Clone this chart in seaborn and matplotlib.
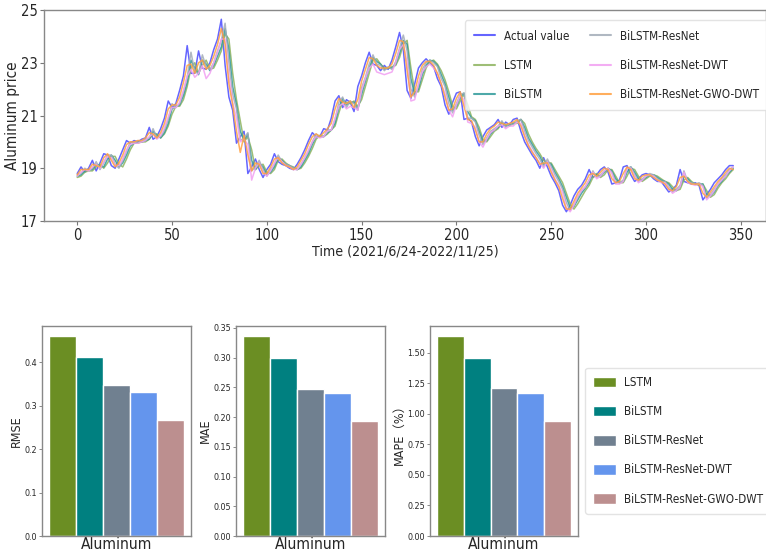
import matplotlib
matplotlib.use('Agg')
import matplotlib.pyplot as plt
from matplotlib import font_manager, ticker
from matplotlib.patches import Patch
from matplotlib.textpath import TextPath
import numpy as np
import pandas as pd
import seaborn as sns

# time index (every 2nd day of the test window)
t = np.arange(0, 347, 2)

actual = [18.8, 19.05, 18.85, 19.0, 19.3, 18.9, 19.2, 19.55, 19.5, 19.1,
          19.0, 19.35, 19.7, 20.05, 19.95, 20.05, 20.0, 20.1, 20.15, 20.55,
          20.1, 20.2, 20.5, 20.9, 21.55, 21.3, 21.45, 21.95, 22.5, 23.65,
          22.6, 22.6, 23.45, 22.8, 22.75, 23.0, 23.5, 23.9, 24.65, 22.9,
          21.7, 21.2, 19.95, 20.2, 20.4, 18.8, 19.05, 19.35, 18.95, 18.65,
          18.95, 19.15, 19.55, 19.25, 19.15, 19.1, 19.0, 18.95, 19.15, 19.4,
          19.7, 20.05, 20.35, 20.2, 20.2, 20.5, 20.45, 20.9, 21.55, 21.75,
          21.3, 21.6, 21.5, 21.15, 22.1, 22.5, 23.0, 23.4, 22.95, 22.9,
          22.7, 22.9, 22.75, 23.1, 23.6, 24.15, 23.5, 21.95, 21.65, 22.2,
          22.8, 23.0, 23.15, 23.0, 22.85, 22.4, 22.1, 21.4, 21.05, 21.5,
          21.85, 21.9, 20.85, 20.9, 20.75, 20.2, 19.85, 20.2, 20.45, 20.55,
          20.65, 20.85, 20.55, 20.75, 20.65, 20.85, 20.9, 20.4, 20.0, 19.75,
          19.5, 19.3, 19.0, 19.4, 19.05, 18.7, 18.45, 18.15, 17.6, 17.35,
          17.6, 17.95, 18.2, 18.35, 18.6, 18.95, 18.65, 18.75, 18.95, 19.05,
          18.85, 18.4, 18.45, 18.55, 19.05, 19.1, 18.75, 18.5, 18.6, 18.75,
          18.8, 18.75, 18.6, 18.5, 18.5, 18.3, 18.1, 18.2, 18.35, 18.95,
          18.5, 18.45, 18.4, 18.45, 18.35, 17.8, 18.0, 18.2, 18.45, 18.6,
          18.75, 18.95, 19.1, 19.1]

lstm = [18.65, 18.7, 18.85, 18.9, 18.9, 19.05, 19.15, 19.0, 19.2, 19.45,
        19.45, 19.15, 19.05, 19.35, 19.7, 19.95, 19.95, 20.0, 20.0, 20.1,
        20.3, 20.3, 20.15, 20.3, 20.6, 21.05, 21.35, 21.35, 21.6, 22.1,
        22.8, 23.0, 22.6, 22.9, 23.1, 22.75, 22.8, 23.1, 23.45, 24.1,
        23.9, 22.6, 21.6, 20.8, 20.0, 20.2, 19.7, 18.95, 19.1, 19.15,
        18.85, 18.8, 18.95, 19.3, 19.35, 19.2, 19.1, 19.05, 18.95, 19.0,
        19.2, 19.45, 19.75, 20.1, 20.25, 20.2, 20.3, 20.45, 20.6, 21.1,
        21.55, 21.5, 21.45, 21.55, 21.35, 21.6, 22.1, 22.6, 23.1, 23.15,
        22.95, 22.8, 22.8, 22.85, 22.9, 23.2, 23.7, 23.85, 22.8, 21.9,
        21.9, 22.35, 22.8, 23.05, 23.1, 22.95, 22.7, 22.35, 21.9, 21.35,
        21.25, 21.55, 21.8, 21.4, 20.95, 20.85, 20.55, 20.1, 20.0, 20.2,
        20.4, 20.5, 20.7, 20.65, 20.6, 20.7, 20.7, 20.85, 20.7, 20.3,
        20.0, 19.75, 19.55, 19.3, 19.2, 19.2, 18.95, 18.7, 18.45, 18.05,
        17.65, 17.45, 17.65, 17.9, 18.15, 18.35, 18.65, 18.8, 18.65, 18.75,
        18.95, 18.95, 18.7, 18.45, 18.45, 18.7, 19.0, 18.95, 18.7, 18.5,
        18.6, 18.7, 18.75, 18.7, 18.6, 18.5, 18.45, 18.3, 18.15, 18.2,
        18.55, 18.65, 18.5, 18.4, 18.35, 18.4, 18.15, 17.9, 18.0, 18.25,
        18.45, 18.6, 18.8, 18.95]

bilstm = [18.7, 18.75, 18.9, 18.95, 18.95, 19.15, 19.1, 19.05, 19.35, 19.5,
          19.3, 19.05, 19.2, 19.5, 19.85, 19.95, 20.0, 20.0, 20.05, 20.1,
          20.4, 20.25, 20.15, 20.35, 20.7, 21.25, 21.35, 21.4, 21.75, 22.25,
          23.1, 22.8, 22.55, 23.1, 22.95, 22.7, 22.9, 23.25, 23.6, 24.3,
          23.5, 22.1, 21.4, 20.4, 20.05, 20.3, 19.3, 18.95, 19.2, 19.05,
          18.75, 18.85, 19.05, 19.4, 19.3, 19.15, 19.1, 19.0, 18.95, 19.05,
          19.3, 19.55, 19.9, 20.2, 20.2, 20.2, 20.35, 20.45, 20.7, 21.3,
          21.65, 21.4, 21.5, 21.5, 21.25, 21.8, 22.3, 22.8, 23.2, 23.05,
          22.95, 22.75, 22.8, 22.8, 22.95, 23.35, 23.85, 23.7, 22.4, 21.8,
          22.0, 22.55, 22.9, 23.1, 23.05, 22.9, 22.55, 22.2, 21.7, 21.2,
          21.35, 21.7, 21.85, 21.15, 20.9, 20.8, 20.4, 20.0, 20.05, 20.3,
          20.45, 20.55, 20.75, 20.6, 20.65, 20.7, 20.75, 20.85, 20.55, 20.15,
          19.9, 19.65, 19.45, 19.15, 19.25, 19.15, 18.85, 18.6, 18.3, 17.9,
          17.5, 17.55, 17.8, 18.05, 18.25, 18.45, 18.8, 18.75, 18.7, 18.85,
          19.0, 18.9, 18.6, 18.45, 18.5, 18.85, 19.05, 18.85, 18.6, 18.55,
          18.65, 18.75, 18.75, 18.65, 18.55, 18.5, 18.4, 18.2, 18.15, 18.3,
          18.7, 18.6, 18.45, 18.4, 18.4, 18.4, 18.0, 17.95, 18.1, 18.35,
          18.5, 18.7, 18.85, 19.0]

resnet = [18.75, 18.8, 19.0, 18.9, 19.0, 19.25, 18.95, 19.2, 19.5, 19.5,
          19.15, 19.0, 19.3, 19.65, 20.0, 19.95, 20.05, 20.0, 20.1, 20.15,
          20.5, 20.15, 20.2, 20.45, 20.85, 21.45, 21.3, 21.45, 21.9, 22.45,
          23.4, 22.65, 22.6, 23.3, 22.85, 22.75, 23.0, 23.45, 23.85, 24.5,
          23.0, 21.8, 21.25, 20.05, 20.15, 20.35, 18.9, 19.05, 19.3, 18.95,
          18.7, 18.95, 19.15, 19.5, 19.25, 19.15, 19.1, 19.0, 18.95, 19.15,
          19.4, 19.65, 20.0, 20.3, 20.2, 20.2, 20.45, 20.45, 20.85, 21.5,
          21.7, 21.3, 21.55, 21.45, 21.2, 22.05, 22.45, 22.95, 23.3, 22.95,
          22.9, 22.7, 22.85, 22.75, 23.05, 23.55, 24.05, 23.45, 22.0, 21.7,
          22.15, 22.75, 23.0, 23.1, 23.0, 22.85, 22.4, 22.1, 21.45, 21.1,
          21.45, 21.8, 21.85, 20.9, 20.9, 20.75, 20.25, 19.9, 20.15, 20.4,
          20.5, 20.6, 20.8, 20.55, 20.7, 20.65, 20.8, 20.85, 20.4, 20.05,
          19.8, 19.55, 19.35, 19.05, 19.35, 19.05, 18.75, 18.5, 18.2, 17.7,
          17.4, 17.6, 17.9, 18.15, 18.3, 18.55, 18.9, 18.65, 18.75, 18.9,
          19.0, 18.85, 18.45, 18.45, 18.55, 19.0, 19.05, 18.75, 18.5, 18.6,
          18.7, 18.8, 18.75, 18.6, 18.5, 18.5, 18.3, 18.1, 18.2, 18.35,
          18.9, 18.5, 18.45, 18.4, 18.45, 18.35, 17.85, 18.0, 18.2, 18.4,
          18.6, 18.75, 18.95, 19.05]

resnet_dwt = [18.7, 18.85, 18.95, 18.9, 19.05, 19.15, 19.0, 19.25, 19.45, 19.4,
              19.1, 19.1, 19.35, 19.7, 19.9, 19.95, 19.95, 20.0, 20.05, 20.2,
              20.3, 20.1, 20.25, 20.55, 20.95, 21.3, 21.3, 21.5, 21.95, 22.5,
              22.75, 22.45, 22.6, 22.9, 22.4, 22.6, 23.0, 23.4, 23.9, 23.9,
              22.5, 21.5, 20.9, 20.0, 20.1, 19.9, 18.55, 19.0, 19.2, 18.85,
              18.7, 18.9, 19.2, 19.4, 19.25, 19.1, 19.05, 18.95, 18.95, 19.15,
              19.4, 19.7, 20.0, 20.2, 20.15, 20.2, 20.4, 20.45, 20.9, 21.35,
              21.45, 21.25, 21.35, 21.3, 21.2, 21.95, 22.4, 22.8, 22.95, 22.65,
              22.6, 22.55, 22.6, 22.65, 23.0, 23.5, 23.7, 23.0, 21.55, 21.6,
              22.2, 22.65, 22.85, 22.95, 22.8, 22.6, 22.2, 21.85, 21.2, 20.95,
              21.4, 21.75, 21.6, 20.75, 20.7, 20.55, 20.0, 19.8, 20.1, 20.35,
              20.45, 20.6, 20.65, 20.5, 20.6, 20.6, 20.75, 20.7, 20.25, 19.9,
              19.65, 19.4, 19.2, 19.0, 19.25, 18.95, 18.6, 18.35, 18.05, 17.5,
              17.35, 17.6, 17.95, 18.15, 18.3, 18.55, 18.85, 18.6, 18.7, 18.9,
              19.0, 18.8, 18.4, 18.4, 18.5, 19.0, 19.0, 18.7, 18.45, 18.55,
              18.7, 18.75, 18.7, 18.55, 18.45, 18.45, 18.25, 18.05, 18.15, 18.3,
              18.85, 18.45, 18.4, 18.35, 18.4, 18.3, 17.8, 17.95, 18.15, 18.4,
              18.55, 18.7, 18.9, 19.05]

gwo_dwt = [18.75, 18.95, 18.95, 18.95, 19.15, 19.1, 19.05, 19.4, 19.55, 19.3,
           19.05, 19.2, 19.5, 19.9, 20.0, 20.0, 20.05, 20.05, 20.15, 20.35,
           20.3, 20.15, 20.35, 20.7, 21.25, 21.4, 21.4, 21.7, 22.25, 22.9,
           22.95, 22.6, 23.0, 23.1, 22.75, 22.9, 23.25, 23.7, 24.3, 23.7,
           22.2, 21.4, 20.4, 19.6, 20.25, 19.5, 18.9, 19.2, 19.15, 18.8,
           18.8, 19.05, 19.35, 19.4, 19.2, 19.1, 19.05, 18.95, 19.05, 19.3,
           19.55, 19.9, 20.2, 20.3, 20.2, 20.35, 20.5, 20.7, 21.25, 21.65,
           21.5, 21.45, 21.55, 21.3, 21.6, 22.3, 22.75, 23.2, 23.15, 22.9,
           22.8, 22.8, 22.8, 22.95, 23.35, 23.85, 23.8, 22.7, 21.7, 21.9,
           22.5, 22.9, 23.05, 23.05, 22.9, 22.6, 22.2, 21.7, 21.2, 21.25,
           21.65, 21.9, 21.35, 20.85, 20.8, 20.45, 20.0, 20.0, 20.3, 20.5,
           20.6, 20.75, 20.7, 20.65, 20.7, 20.75, 20.85, 20.6, 20.2, 19.85,
           19.6, 19.4, 19.15, 19.2, 19.2, 18.85, 18.55, 18.3, 17.85, 17.45,
           17.45, 17.75, 18.05, 18.25, 18.45, 18.75, 18.8, 18.7, 18.85, 19.0,
           18.95, 18.6, 18.45, 18.5, 18.8, 19.05, 18.95, 18.6, 18.55, 18.7,
           18.75, 18.75, 18.65, 18.55, 18.5, 18.4, 18.2, 18.15, 18.3, 18.65,
           18.7, 18.5, 18.4, 18.4, 18.4, 18.05, 17.9, 18.1, 18.3, 18.5,
           18.65, 18.85, 19.0, 18.95]

line_names = ['Actual value', 'LSTM', 'BiLSTM', 'BiLSTM-ResNet',
              'BiLSTM-ResNet-DWT', 'BiLSTM-ResNet-GWO-DWT']
line_colors = ['#4a4aff', '#8db35e', '#2f9a9a', '#a3acb8', '#f29ff2', '#ffa040']

# error metrics
models = ['LSTM', 'BiLSTM', 'BiLSTM-ResNet', 'BiLSTM-ResNet-DWT', 'BiLSTM-ResNet-GWO-DWT']
rmse = [0.460, 0.412, 0.347, 0.332, 0.268]
mae = [0.336, 0.300, 0.248, 0.241, 0.193]
mape = [1.637, 1.462, 1.213, 1.169, 0.939]
bar_colors = ['olivedrab', 'teal', 'slategray', 'cornflowerblue', 'rosybrown']

sns.set_style('white')

# pick a narrow font if one is installed, otherwise Roboto
cands = []
for f in font_manager.fontManager.ttflist:
    if f.style != 'normal' or f.weight not in (400, 'normal', 'regular'):
        continue
    if 'Narrow' in f.name or 'Condensed' in f.name or f.stretch in ('condensed', 'semi-condensed'):
        cands.append(f)
cands.sort(key=lambda f: (0 if 'Liberation' in f.name else 1 if 'DejaVu' in f.name else 2, f.name))
if cands:
    nfam, nstretch = cands[0].name, cands[0].stretch
else:
    nfam, nstretch = 'Roboto', 'normal'
plt.rcParams['font.family'] = [nfam, 'DejaVu Sans']
plt.rcParams['font.stretch'] = nstretch


def fit(text, px):
    # font size (pt) that makes text span about px pixels
    prop = font_manager.FontProperties(family=nfam, stretch=nstretch)
    w = TextPath((0, 0), text, size=10, prop=prop).get_extents().width * 100 / 72
    return 10 * px / w


leg_size = min(13, fit('BiLSTM-ResNet-GWO-DWT', 138))
leg_px = leg_size * 100 / 72
row_sp = 29 / leg_px - 1.1  # rows about 29 px apart
tick_size = 10.5

fig = plt.figure(figsize=(7.66, 5.58), dpi=100)

# ---- top: price curves
ax = fig.add_axes([0.058, 0.604, 0.942, 0.378])
series = [actual, lstm, bilstm, resnet, resnet_dwt, gwo_dwt]
for name, col, vals in zip(line_names, line_colors, series):
    sns.lineplot(x=t, y=vals, color=col, label=name, linewidth=1.1, alpha=0.85, ax=ax)
ax.set_ylim(17, 25)
ax.set_yticks([17, 19, 21, 23, 25])
ax.set_xticks([0, 50, 100, 150, 200, 250, 300, 350])
ax.tick_params(labelsize=tick_size, length=3, width=0.8, color='#777777', left=True, bottom=True, pad=2)
ax.set_xlabel('Time (2021/6/24-2022/11/25)', fontsize=min(12.5, fit('Time (2021/6/24-2022/11/25)', 185)),
              labelpad=1)
ax.set_ylabel('Aluminum price', fontsize=11, family='DejaVu Sans')
ax.yaxis.set_label_coords(-0.034, 0.5)
leg = ax.legend(ncol=2, loc='upper right', bbox_to_anchor=(1.003, 0.952), fontsize=leg_size,
                frameon=True, handlelength=21 / leg_px, handletextpad=9 / leg_px,
                columnspacing=20 / leg_px, borderaxespad=0.0, labelspacing=row_sp,
                borderpad=0.8)
leg.get_frame().set_edgecolor('#dddddd')
for lh in leg.get_lines():
    lh.set_linewidth(1.5)

# ---- bottom: metric bars
bar_df = pd.DataFrame({'model': models, 'RMSE': rmse, 'MAE': mae, 'MAPE': mape})
bar_df['group'] = 'Aluminum'
pal = dict(zip(models, bar_colors))

lefts = [0.055, 0.308, 0.561]
metrics = [('RMSE', 'RMSE', 0.1, '%.1f'), ('MAE', 'MAE', 0.05, '%.2f'),
           ('MAPE', 'MAPE\uff08%\uff09', 0.25, '%.2f')]
bar_axes = []
for left, (col, lab, step, fmt) in zip(lefts, metrics):
    bx = fig.add_axes([left, 0.0394, 0.194, 0.376])
    sns.barplot(data=bar_df, x='group', y=col, hue='model', hue_order=models,
                palette=pal, saturation=1, width=1, gap=0, ax=bx)
    bx.get_legend().remove()
    bx.set_xlim(-0.552, 0.552)
    bx.set_xlabel('')
    bx.set_ylabel(lab, fontsize=9, family=['DejaVu Sans', 'Noto Sans CJK SC'], labelpad=1)
    bx.yaxis.set_major_locator(ticker.MultipleLocator(step))
    bx.yaxis.set_major_formatter(ticker.FormatStrFormatter(fmt))
    bx.tick_params(axis='y', labelsize=6.5, length=2, width=0.6, color='#777777', left=True, pad=1.5)
    bx.tick_params(axis='x', labelsize=min(13, fit('Aluminum', 70)), length=0, pad=1)
    bar_axes.append(bx)

for a in [ax] + bar_axes:
    for s in a.spines.values():
        s.set_color('#888888')
        s.set_linewidth(1.0)

handles = [Patch(facecolor=c, label=m) for m, c in zip(models, bar_colors)]
bleg = fig.legend(handles=handles, loc='upper left', bbox_to_anchor=(0.764, 0.341),
                  fontsize=leg_size, frameon=True, handlelength=23 / leg_px,
                  handleheight=12 / leg_px, handletextpad=8 / leg_px,
                  labelspacing=row_sp, borderpad=0.7, borderaxespad=0)
bleg.get_frame().set_edgecolor('#dddddd')

fig.savefig('out.png', dpi=100)
